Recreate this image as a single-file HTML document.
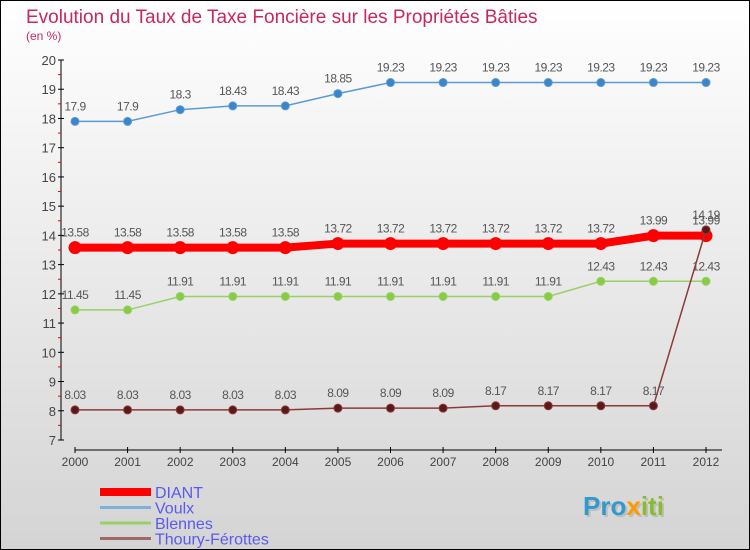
<!DOCTYPE html>
<html><head><meta charset="utf-8"><style>
body{margin:0;width:750px;height:550px;overflow:hidden;font-family:"Liberation Sans",sans-serif}
svg{display:block}
</style></head><body>
<svg width="750" height="550">
<defs><linearGradient id="bg" x1="0" y1="0" x2="0" y2="1"><stop offset="0" stop-color="#ffffff"/><stop offset="1" stop-color="#d4d4d4"/></linearGradient></defs>
<rect x="0.5" y="0.5" width="749" height="549" fill="url(#bg)" stroke="#000"/>
<text x="26" y="23" font-size="19" fill="#c8285a">Evolution du Taux de Taxe Foncière sur les Propriétés Bâties</text>
<text x="26" y="40" font-size="12" fill="#c8285a">(en %)</text>
<g id="axes"></g>
<g id="series"></g>
<g id="legend"></g>
<text x="585" y="517" font-size="26" font-weight="bold" fill="#999" opacity="0.4">Proxiti</text>
<text x="583" y="515" font-size="26" font-weight="bold" fill="#f0a030"><tspan fill="#3399cc">Pro</tspan><tspan fill="#ff9900">x</tspan><tspan fill="#88bb33">iti</tspan></text>
</svg>
<script>
const years=[2000,2001,2002,2003,2004,2005,2006,2007,2008,2009,2010,2011,2012];
const yTicks=[7,8,9,10,11,12,13,14,15,16,17,18,19,20];
const diant=[13.58,13.58,13.58,13.58,13.58,13.72,13.72,13.72,13.72,13.72,13.72,13.99,13.99];
const voulx=[17.9,17.9,18.3,18.43,18.43,18.85,19.23,19.23,19.23,19.23,19.23,19.23,19.23];
const blennes=[11.45,11.45,11.91,11.91,11.91,11.91,11.91,11.91,11.91,11.91,12.43,12.43,12.43];
const thoury=[8.03,8.03,8.03,8.03,8.03,8.09,8.09,8.09,8.17,8.17,8.17,8.17,14.19];
const seriesNames=["DIANT","Voulx","Blennes","Thoury-Férottes"];
const NS="http://www.w3.org/2000/svg";
function xs(i){return 75+i*(706-75)/(years.length-1);}
function ys(v){return 60+(20-v)*(380/13);}
function mk(tag,attrs,parent){const e=document.createElementNS(NS,tag);for(const k in attrs)e.setAttribute(k,attrs[k]);parent.appendChild(e);return e;}
const ax=document.getElementById('axes');
let l=mk('line',{x1:61,y1:60,x2:61,y2:440,stroke:'#000'},ax);


yTicks.forEach(v=>{
 const y=ys(v);
 mk('line',{x1:58,y1:y,x2:64,y2:y,stroke:'#000'},ax);
 if(v<20)mk('line',{x1:58,y1:y-380/26,x2:61,y2:y-380/26,stroke:'#e00'},ax);
 const t=mk('text',{x:56,y:y+5,'font-size':13,'text-anchor':'end',fill:'#444'},ax);
 t.textContent=v;
 
 
});
l=mk('line',{x1:75,y1:450,x2:722,y2:450,stroke:'#000'},ax);


years.forEach((yr,i)=>{
 const x=xs(i);
 mk('line',{x1:x,y1:447,x2:x,y2:453,stroke:'#000'},ax);
 const t=mk('text',{x:x,y:466,'font-size':12,'text-anchor':'middle',fill:'#444'},ax);
 t.textContent=yr;
 
 
});
const sg=document.getElementById('series');
function draw(data,name,color,w,r,dot){
 const g=mk('g',{},sg);
 
 
 mk('polyline',{points:data.map((v,i)=>xs(i)+','+ys(v)).join(' '),fill:'none',stroke:color,'stroke-width':w},g);
 data.forEach((v,i)=>{
  const c=mk('circle',{cx:xs(i),cy:ys(v),r:r,fill:dot,stroke:color,'stroke-width':1},g);
  
  
  const t=mk('text',{x:xs(i),y:ys(v)-11,'font-size':12,'text-anchor':'middle',fill:'#555','letter-spacing':'-0.5'},g);
  t.textContent=v;
  
  
 });
}
draw(voulx,'voulx','#5b9bd5',1.5,4,'#3a86c8');
draw(blennes,'blennes','#99d066',1.5,4,'#88cc44');
draw(diant,'diant','#f00',8,6,'#f00');
draw(thoury,'thoury','#8b3a3a',1.5,4,'#5a1a1a');
const lg=document.getElementById('legend');
const lc=['#f00','#7fb0d8','#99d066','#a06868'];const lw=[8,3,3,3];
seriesNames.forEach((n,i)=>{
 const y=492+i*15.5;
 const e=mk('line',{x1:100,y1:y,x2:151,y2:y,stroke:lc[i],'stroke-width':lw[i]},lg);
 
 
 const t=mk('text',{x:155,y:y+6,'font-size':16,fill:'#5a5aee'},lg);
 t.textContent=n;
 
 
});
</script>
</body></html>
